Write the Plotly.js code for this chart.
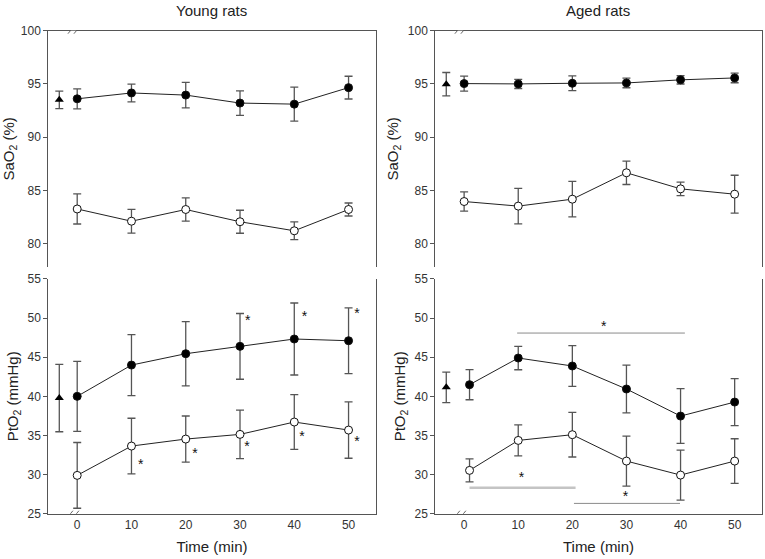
<!DOCTYPE html>
<html>
<head>
<meta charset="utf-8">
<script src="https://cdn.plot.ly/plotly-3.0.1.min.js"></script>
<style>html,body{margin:0;padding:0;background:#fff;}#chart{width:765px;height:559px;}</style>
</head>
<body>
<div id="chart"></div>
<script>
// ---------- data ----------
const times = [0, 10, 20, 30, 40, 50];
const timesAgedPtO2 = [1, 10, 20, 30, 40, 50];
const baselineTime = [-3.3];
const xTickVals = [0, 10, 20, 30, 40, 50];
const saTickVals = [80, 85, 90, 95, 100];
const ptTickVals = [25, 30, 35, 40, 45, 50, 55];

// Young rats, SaO2 (%)
const youngSaBaseline = [93.5];      const youngSaBaselineErr = [0.82];
const youngSaFilled = [93.6, 94.15, 93.95, 93.2, 93.1, 94.65];
const youngSaFilledErr = [0.94, 0.83, 1.2, 1.15, 1.6, 1.07];
const youngSaOpen = [83.25, 82.1, 83.2, 82.05, 81.2, 83.2];
const youngSaOpenErr = [1.41, 1.12, 1.1, 1.08, 0.83, 0.61];

// Aged rats, SaO2 (%)
const agedSaBaseline = [94.97];      const agedSaBaselineErr = [1.1];
const agedSaFilled = [95.03, 95.0, 95.06, 95.09, 95.38, 95.56];
const agedSaFilledErr = [0.7, 0.43, 0.69, 0.45, 0.39, 0.45];
const agedSaOpen = [83.95, 83.52, 84.17, 86.65, 85.14, 84.64];
const agedSaOpenErr = [0.9, 1.67, 1.67, 1.1, 0.63, 1.78];

// Young rats, PtO2 (mmHg)
const youngPtBaseline = [39.78];     const youngPtBaselineErr = [4.3];
const youngPtFilled = [40.0, 44.0, 45.45, 46.39, 47.33, 47.11];
const youngPtFilledErr = [4.47, 3.9, 4.1, 4.2, 4.6, 4.2];
const youngPtOpen = [29.9, 33.65, 34.54, 35.14, 36.72, 35.69];
const youngPtOpenErr = [4.2, 3.55, 2.95, 3.1, 3.5, 3.6];

// Aged rats, PtO2 (mmHg)
const agedPtBaseline = [41.15];      const agedPtBaselineErr = [1.95];
const agedPtFilled = [41.49, 44.9, 43.88, 40.94, 37.48, 39.27];
const agedPtFilledErr = [1.92, 1.5, 2.6, 3.05, 3.5, 3.0];
const agedPtOpen = [30.54, 34.37, 35.1, 31.73, 29.94, 31.73];
const agedPtOpenErr = [1.47, 1.98, 2.85, 3.2, 3.2, 2.85];

// significance stars
const youngStarX = [31.4, 41.9, 51.55, 11.7, 21.7, 31.3, 41.4, 51.55];
const youngStarY = [49.54, 50.05, 50.48, 31.1, 32.6, 33.52, 34.76, 34.08];
const agedStarX = [25.8, 10.6, 29.8];
const agedStarY = [48.82, 29.47, 27.05];

// significance bars (aged PtO2)
const sigBarStart = [9.8, 1.0, 20.3];
const sigBarEnd = [40.8, 20.6, 39.9];
const sigBarY = [48.09, 28.32, 26.32];
const sigBarColor = ['#8a8a8a', '#c4c4c4', '#8a8a8a'];
const sigBarWidth = [1, 2.5, 1];

// ---------- styles ----------
const FONT = 'Liberation Sans, Arial, sans-serif';
const ERR_COLOR = '#555';
const LINE_COLOR = '#222';
const AXIS_COLOR = '#555';

function errSpec(arr) {
  return {type: 'data', array: arr, visible: true, color: ERR_COLOR, thickness: 1.3, width: 4};
}
function seriesTrace(x, y, err, filled, xa, ya) {
  return {
    x: x, y: y, xaxis: xa, yaxis: ya, type: 'scatter', mode: 'lines+markers',
    line: {color: LINE_COLOR, width: 1},
    marker: {symbol: 'circle', size: 8, color: filled ? '#000' : '#fff', line: {color: '#111', width: 1}},
    error_y: errSpec(err), showlegend: false, hoverinfo: 'x+y', cliponaxis: false
  };
}
function baseTrace(y, err, xa, ya) {
  return {
    x: baselineTime, y: y, xaxis: xa, yaxis: ya, type: 'scatter', mode: 'markers',
    marker: {symbol: 'triangle-up', size: 8, color: '#000'},
    error_y: errSpec(err), showlegend: false, cliponaxis: false
  };
}
function starTrace(x, y, xa, ya) {
  return {
    x: x, y: y, xaxis: xa, yaxis: ya, type: 'scatter', mode: 'text',
    text: x.map(() => '*'), textposition: 'middle center',
    textfont: {family: FONT, size: 14, color: '#111'},
    showlegend: false, hoverinfo: 'skip', cliponaxis: false
  };
}

const traces = [];
sigBarStart.forEach((s, i) => {
  traces.push({
    x: [s, sigBarEnd[i]], y: [sigBarY[i], sigBarY[i]], xaxis: 'x4', yaxis: 'y4',
    type: 'scatter', mode: 'lines', line: {color: sigBarColor[i], width: sigBarWidth[i]},
    showlegend: false, hoverinfo: 'skip'
  });
});
traces.push(
  baseTrace(youngSaBaseline, youngSaBaselineErr, 'x', 'y'),
  seriesTrace(times, youngSaFilled, youngSaFilledErr, true, 'x', 'y'),
  seriesTrace(times, youngSaOpen, youngSaOpenErr, false, 'x', 'y'),

  baseTrace(agedSaBaseline, agedSaBaselineErr, 'x2', 'y2'),
  seriesTrace(times, agedSaFilled, agedSaFilledErr, true, 'x2', 'y2'),
  seriesTrace(times, agedSaOpen, agedSaOpenErr, false, 'x2', 'y2'),

  baseTrace(youngPtBaseline, youngPtBaselineErr, 'x3', 'y3'),
  seriesTrace(times, youngPtFilled, youngPtFilledErr, true, 'x3', 'y3'),
  seriesTrace(times, youngPtOpen, youngPtOpenErr, false, 'x3', 'y3'),

  baseTrace(agedPtBaseline, agedPtBaselineErr, 'x4', 'y4'),
  seriesTrace(timesAgedPtO2, agedPtFilled, agedPtFilledErr, true, 'x4', 'y4'),
  seriesTrace(timesAgedPtO2, agedPtOpen, agedPtOpenErr, false, 'x4', 'y4'),

  starTrace(youngStarX, youngStarY, 'x3', 'y3'),
  starTrace(agedStarX, agedStarY, 'x4', 'y4')
);

// ---------- layout ----------
const X_RANGE = [-5.33, 55.0];
const LEFT_DOM = [0.0631, 0.4911];
const RIGHT_DOM = [0.569, 0.9957];
const TOP_DOM = [0.5224, 0.9451];
const BOT_DOM = [0.0810, 0.5009];
const tickFont = {family: FONT, size: 12, color: '#333'};
const titleFont = {family: FONT, size: 15, color: '#222'};

function topX(dom, anchor) {
  return {domain: dom, anchor: anchor, range: X_RANGE, side: 'top', showline: true, linecolor: AXIS_COLOR,
          linewidth: 1, showticklabels: false, ticks: '', showgrid: false, zeroline: false, fixedrange: true};
}
function botX(dom, anchor) {
  return {domain: dom, anchor: anchor, range: X_RANGE, showline: true, linecolor: AXIS_COLOR, linewidth: 1,
          tickvals: xTickVals, ticks: '', tickfont: tickFont, showgrid: false, zeroline: false,
          title: {text: 'Time (min)', font: titleFont, standoff: 10}, fixedrange: true};
}
function yAx(dom, anchor, range, tv, text) {
  return {domain: dom, anchor: anchor, range: range, tickvals: tv, showline: true, mirror: true,
          linecolor: AXIS_COLOR, linewidth: 1, ticks: 'outside', ticklen: 4, tickcolor: AXIS_COLOR,
          tickfont: tickFont, showgrid: false, zeroline: false, fixedrange: true,
          title: {text: text, font: titleFont, standoff: 5}};
}

const SA_TITLE = 'SaO<sub>2</sub> (%)';
const PT_TITLE = 'PtO<sub>2</sub> (mmHg)';

const annotations = [
  {text: 'Young rats', xref: 'paper', yref: 'paper', x: (LEFT_DOM[0] + LEFT_DOM[1]) / 2, y: 1 - 10 / 559,
   showarrow: false, font: {family: FONT, size: 15, color: '#222'}, xanchor: 'center', yanchor: 'middle'},
  {text: 'Aged rats', xref: 'paper', yref: 'paper', x: (RIGHT_DOM[0] + RIGHT_DOM[1]) / 2, y: 1 - 10 / 559,
   showarrow: false, font: {family: FONT, size: 15, color: '#222'}, xanchor: 'center', yanchor: 'middle'}
];

// axis break marks "//"
const shapes = [];
function breakMark(xref, yref, yval) {
  const common = {xref: xref, yref: yref, xsizemode: 'pixel', ysizemode: 'pixel', xanchor: -0.6, yanchor: yval, layer: 'above'};
  shapes.push(Object.assign({type: 'rect', x0: -3, x1: 2, y0: -2, y1: 2, fillcolor: '#fff', line: {width: 0}}, common));
  shapes.push(Object.assign({type: 'line', x0: -6, x1: -1, y0: -3, y1: 3, line: {color: '#666', width: 1}}, common));
  shapes.push(Object.assign({type: 'line', x0: 0, x1: 5, y0: -3, y1: 3, line: {color: '#666', width: 1}}, common));
}
breakMark('x', 'y', 100);
breakMark('x2', 'y2', 100);
breakMark('x3', 'y3', 25);
breakMark('x4', 'y4', 25);

const layout = {
  width: 765, height: 559,
  margin: {l: 0, r: 0, t: 0, b: 0},
  paper_bgcolor: '#fff', plot_bgcolor: '#fff',
  font: {family: FONT, color: '#222'},
  showlegend: false,
  xaxis: topX(LEFT_DOM, 'y'),
  xaxis2: topX(RIGHT_DOM, 'y2'),
  xaxis3: botX(LEFT_DOM, 'y3'),
  xaxis4: botX(RIGHT_DOM, 'y4'),
  yaxis: yAx(TOP_DOM, 'x', [77.8, 100], saTickVals, SA_TITLE),
  yaxis2: yAx(TOP_DOM, 'x2', [77.8, 100], saTickVals, SA_TITLE),
  yaxis3: yAx(BOT_DOM, 'x3', [25, 55], ptTickVals, PT_TITLE),
  yaxis4: yAx(BOT_DOM, 'x4', [25, 55], ptTickVals, PT_TITLE),
  annotations: annotations,
  shapes: shapes
};

Plotly.newPlot('chart', traces, layout, {displayModeBar: false, staticPlot: true});
</script>
</body>
</html>
